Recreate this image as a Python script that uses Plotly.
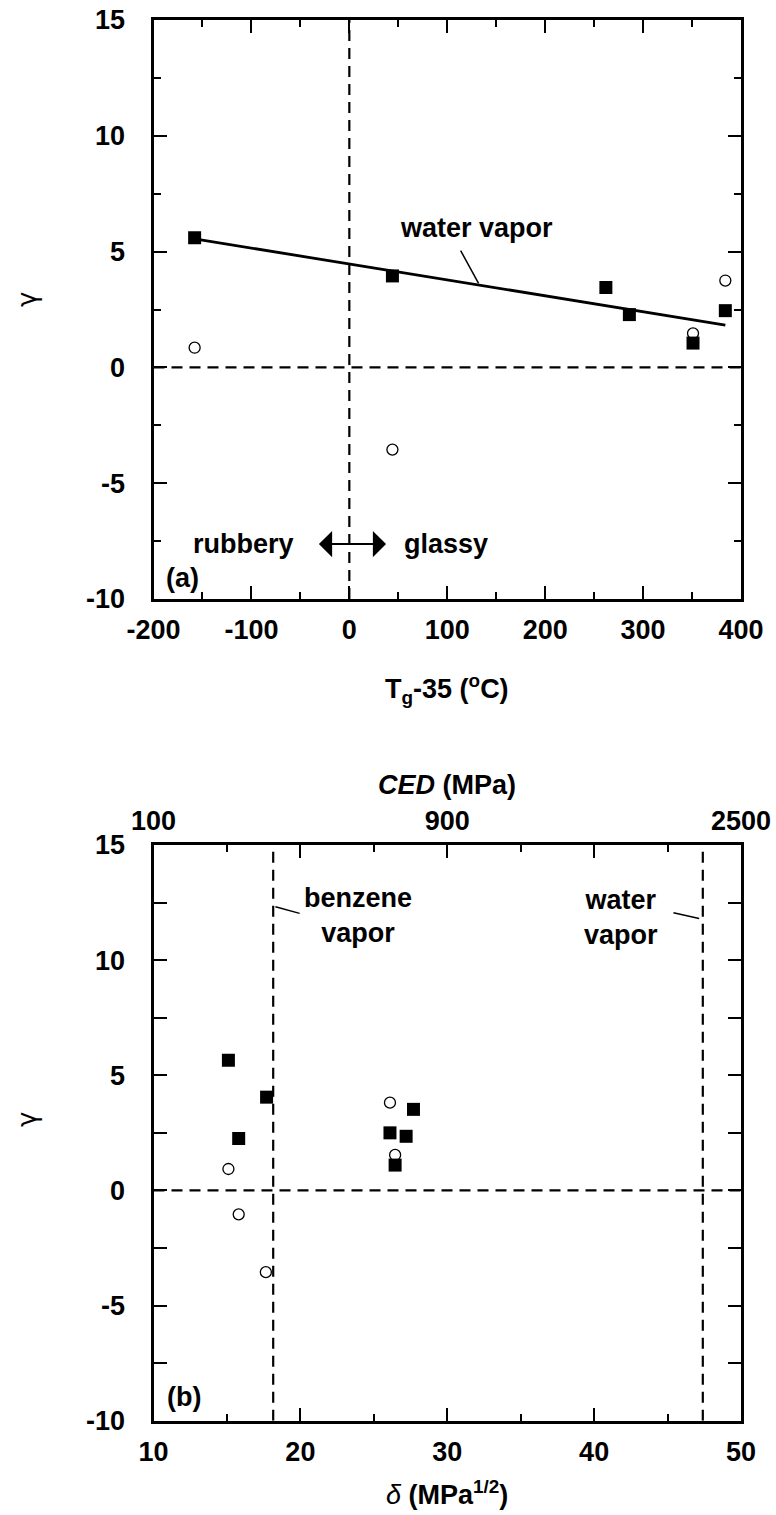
import plotly.graph_objects as go

# ---------------- data ----------------
# panel (a): gamma vs Tg-35
tg_filled_x = [-158, 44, 262, 286, 351, 384]
tg_filled_y = [5.6, 3.95, 3.45, 2.28, 1.05, 2.45]
tg_open_x = [-158, 44, 351, 384]
tg_open_y = [0.85, -3.55, 1.47, 3.75]
fit_x = [-158, 384]
fit_y = [5.55, 1.83]

# panel (b): gamma vs delta
delta_filled_x = [15.1, 17.7, 15.8, 26.1, 27.2, 27.7, 26.45]
delta_filled_y = [5.65, 4.05, 2.25, 2.5, 2.35, 3.52, 1.1]
delta_open_x = [15.1, 15.8, 17.65, 26.1, 26.45]
delta_open_y = [0.93, -1.04, -3.55, 3.81, 1.54]

benzene_delta = 18.15
water_delta = 47.4

tg_ticks = [-200, -100, 0, 100, 200, 300, 400]
tg_ticktext = ["-200", "-100", "0", "100", "200", "300", "400"]
delta_ticks = [10, 20, 30, 40, 50]
delta_ticktext = ["10", "20", "30", "40", "50"]
ced_tickvals = [10, 30, 50]
ced_ticktext = ["100", "900", "2500"]
gamma_ticks = [-10, -5, 0, 5, 10, 15]
gamma_ticktext = ["-10", "-5", "0", "5", "10", "15"]

FONT = "Liberation Sans"
BLK = "black"
DASH = "11px,7px"

fig = go.Figure()

# ---- panel (a) ----
fig.add_trace(go.Scatter(x=[0, 0], y=[-10, 15], mode="lines",
                         line=dict(color=BLK, width=2.2, dash=DASH),
                         xaxis="x", yaxis="y", showlegend=False))
fig.add_trace(go.Scatter(x=[-200, 400], y=[0, 0], mode="lines",
                         line=dict(color=BLK, width=2.2, dash=DASH),
                         xaxis="x", yaxis="y", showlegend=False))
fig.add_trace(go.Scatter(x=fit_x, y=fit_y, mode="lines",
                         line=dict(color=BLK, width=2.8),
                         xaxis="x", yaxis="y", showlegend=False))
fig.add_trace(go.Scatter(x=[113.7, 132], y=[5.04, 3.63], mode="lines",
                         line=dict(color=BLK, width=1.5),
                         xaxis="x", yaxis="y", showlegend=False))
fig.add_trace(go.Scatter(x=tg_open_x, y=tg_open_y, mode="markers",
                         marker=dict(symbol="circle", size=11, color="white",
                                     line=dict(color=BLK, width=1.3)),
                         xaxis="x", yaxis="y", showlegend=False))
fig.add_trace(go.Scatter(x=tg_filled_x, y=tg_filled_y, mode="markers",
                         marker=dict(symbol="square", size=13, color=BLK,
                                     line=dict(width=0)),
                         xaxis="x", yaxis="y", showlegend=False))

# ---- panel (b) ----
for dx in (benzene_delta, water_delta):
    fig.add_trace(go.Scatter(x=[dx, dx], y=[-10, 15], mode="lines",
                             line=dict(color=BLK, width=2.2, dash=DASH),
                             xaxis="x2", yaxis="y2", showlegend=False))
fig.add_trace(go.Scatter(x=[10, 50], y=[0, 0], mode="lines",
                         line=dict(color=BLK, width=2.2, dash=DASH),
                         xaxis="x2", yaxis="y2", showlegend=False))
fig.add_trace(go.Scatter(x=[18.3, 19.95], y=[12.32, 12.03], mode="lines",
                         line=dict(color=BLK, width=1.5),
                         xaxis="x2", yaxis="y2", showlegend=False))
fig.add_trace(go.Scatter(x=[45.4, 47.15], y=[12.06, 11.81], mode="lines",
                         line=dict(color=BLK, width=1.5),
                         xaxis="x2", yaxis="y2", showlegend=False))
fig.add_trace(go.Scatter(x=delta_open_x, y=delta_open_y, mode="markers",
                         marker=dict(symbol="circle", size=11, color="white",
                                     line=dict(color=BLK, width=1.3)),
                         xaxis="x2", yaxis="y2", showlegend=False))
fig.add_trace(go.Scatter(x=delta_filled_x, y=delta_filled_y, mode="markers",
                         marker=dict(symbol="square", size=13, color=BLK,
                                     line=dict(width=0)),
                         xaxis="x2", yaxis="y2", showlegend=False))
# invisible trace for top CED axis
fig.add_trace(go.Scatter(x=[10, 50], y=[0, 0], mode="markers",
                         marker=dict(opacity=0), hoverinfo="skip",
                         xaxis="x3", yaxis="y2", showlegend=False))

tickfont = dict(family=FONT, size=27, color=BLK, weight="bold")
XD = [153.5 / 776, 741 / 776]
YA = [1 - 599 / 1515, 1 - 20 / 1515]
YB = [1 - 1420.7 / 1515, 1 - 845 / 1515]


def xax(domain, rng, tickvals, ticktext, minor_dtick, anchor):
    return dict(domain=domain, range=rng, tickvals=tickvals, ticktext=ticktext,
                ticks="inside", ticklen=13, tickwidth=2, tickcolor=BLK,
                minor=dict(dtick=minor_dtick, tick0=rng[0], ticks="inside",
                           ticklen=7, tickwidth=2, tickcolor=BLK),
                showline=True, linewidth=3, linecolor=BLK, mirror="allticks",
                showgrid=False, zeroline=False, tickfont=tickfont,
                ticklabelstandoff=5, anchor=anchor, automargin=False)


def yax(domain, anchor):
    return dict(domain=domain, range=[-10, 15], tickvals=gamma_ticks,
                ticktext=gamma_ticktext,
                ticks="inside", ticklen=13, tickwidth=2, tickcolor=BLK,
                minor=dict(dtick=2.5, tick0=-10, ticks="inside",
                           ticklen=7, tickwidth=2, tickcolor=BLK),
                showline=True, linewidth=3, linecolor=BLK, mirror="allticks",
                showgrid=False, zeroline=False, tickfont=tickfont,
                ticklabelstandoff=20, anchor=anchor, automargin=False)


fig.update_layout(
    width=776, height=1515,
    margin=dict(l=0, r=0, t=0, b=0),
    paper_bgcolor="white", plot_bgcolor="white",
    xaxis=xax(XD, [-200, 400], tg_ticks, tg_ticktext, 50, "y"),
    yaxis=yax(YA, "x"),
    xaxis2=xax(XD, [10, 50], delta_ticks, delta_ticktext, 5, "y2"),
    yaxis2=yax(YB, "x2"),
    xaxis3=dict(domain=XD, range=[10, 50], overlaying="x2", anchor="y2",
                side="top", tickvals=ced_tickvals, ticktext=ced_ticktext,
                ticks="", showline=False, showgrid=False, zeroline=False,
                tickfont=tickfont, ticklabelstandoff=9, automargin=False),
)

ann_font = dict(family=FONT, size=27, color=BLK, weight="bold")
gfont = dict(family="DejaVu Sans", size=26, color=BLK)


def pann(x, y, text, **kw):
    d = dict(x=x / 776, y=1 - y / 1515, xref="paper", yref="paper", text=text,
             showarrow=False, xanchor="center", yanchor="middle", font=ann_font)
    d.update(kw)
    return d


anns = [
    # panel (a)
    dict(x=130, y=6.0, xref="x", yref="y", text="water vapor", showarrow=False, font=ann_font),
    dict(x=-108, y=-7.63, xref="x", yref="y", text="rubbery", showarrow=False, font=ann_font),
    dict(x=99, y=-7.63, xref="x", yref="y", text="glassy", showarrow=False, font=ann_font),
    dict(x=-170, y=-9.1, xref="x", yref="y", text="(a)", showarrow=False, font=ann_font),
    dict(x=37.5, y=-7.63, xref="x", yref="y", ax=-32.6, ay=-7.63, axref="x", ayref="y",
         text="", showarrow=True, arrowhead=1, arrowside="end+start",
         arrowsize=2.2, arrowwidth=2, arrowcolor=BLK),
    pann(447, 689, "T<sub>g</sub>-35 (<sup>o</sup>C)"),
    pann(27, 300, "γ", textangle=-90, font=gfont),
    # panel (b)
    dict(x=23.9, y=11.96, xref="x2", yref="y2", text="benzene<br>vapor", showarrow=False,
         font=ann_font, align="center"),
    dict(x=41.8, y=11.85, xref="x2", yref="y2", text="water<br>vapor", showarrow=False,
         font=ann_font, align="center"),
    dict(x=12.1, y=-8.96, xref="x2", yref="y2", text="(b)", showarrow=False, font=ann_font),
    pann(447, 785, "<i>CED</i> (MPa)"),
    pann(447, 1493, "<span style='font-weight:normal'><i>δ</i></span> (MPa<sup>1/2</sup>)"),
    pann(27, 1120, "γ", textangle=-90, font=gfont),
]
fig.update_layout(annotations=anns)

fig.write_html("out.html")
